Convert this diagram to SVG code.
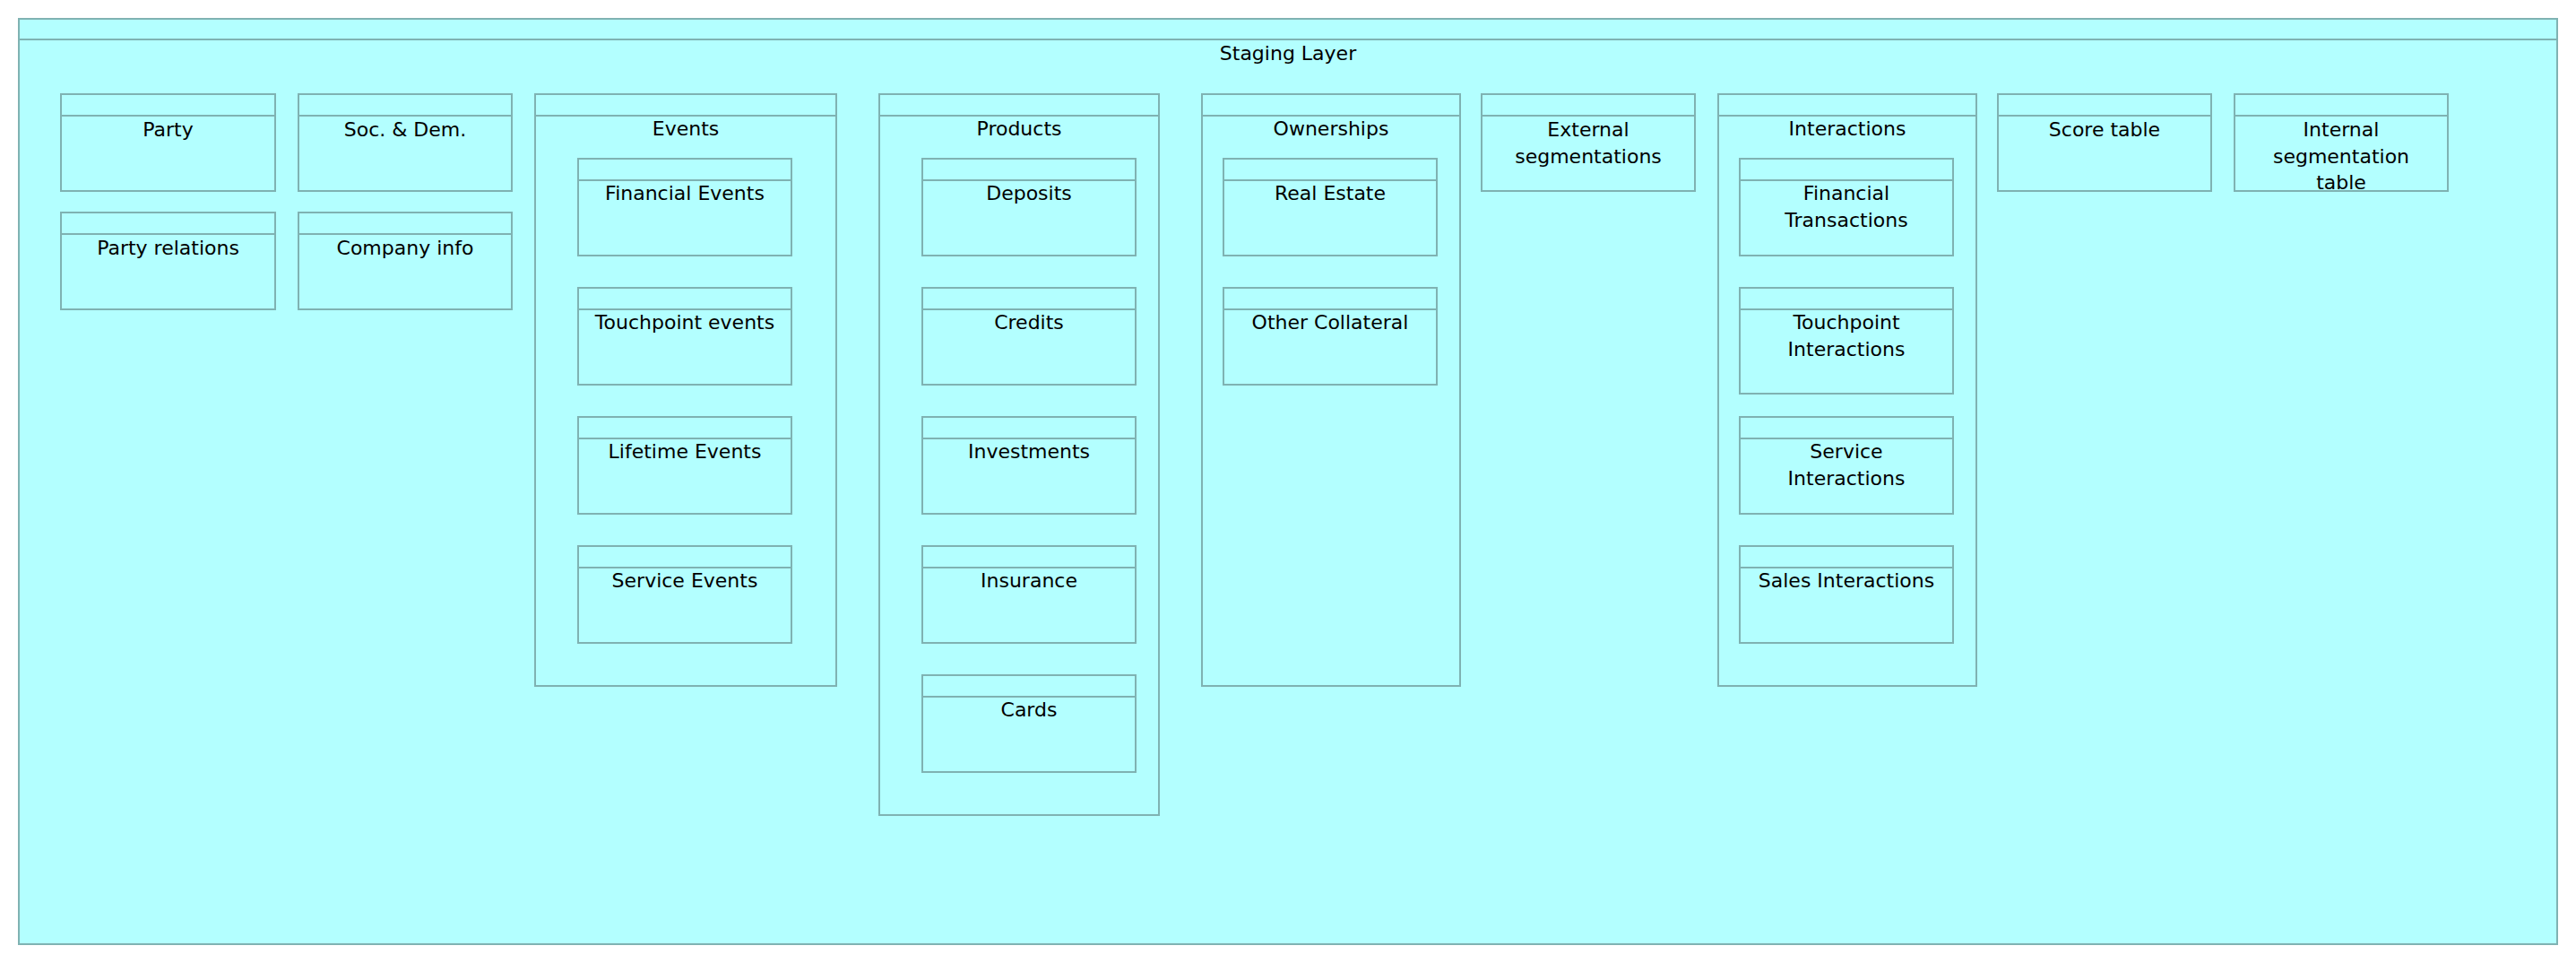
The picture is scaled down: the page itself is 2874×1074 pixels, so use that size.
<svg xmlns="http://www.w3.org/2000/svg" width="2874" height="1074" viewBox="0 0 2874 1074">
<style>
.box{fill:#b3ffff;stroke:#7fb2b2;stroke-width:2}
.hl{stroke:#7fb2b2;stroke-width:2;fill:none}
text{font-family:"DejaVu Sans","Liberation Sans",sans-serif;font-size:22px;fill:#000;text-anchor:middle}
</style>
<rect width="2874" height="1074" fill="#ffffff"/>
<g id="staging-layer">
<rect class="box" x="21" y="21" width="2832" height="1032"/>
<line class="hl" x1="21" y1="44" x2="2853" y2="44"/>
<text x="1437" y="67">Staging Layer</text>
</g>
<g id="party"><rect class="box" x="68" y="105" width="239" height="108"/><line class="hl" x1="68" y1="129" x2="307" y2="129"/><text x="187.5" y="152">Party</text></g>
<g id="soc-dem"><rect class="box" x="333" y="105" width="238" height="108"/><line class="hl" x1="333" y1="129" x2="571" y2="129"/><text x="452" y="152">Soc. &amp; Dem.</text></g>
<g id="party-relations"><rect class="box" x="68" y="237" width="239" height="108"/><line class="hl" x1="68" y1="261" x2="307" y2="261"/><text x="187.5" y="284">Party relations</text></g>
<g id="company-info"><rect class="box" x="333" y="237" width="238" height="108"/><line class="hl" x1="333" y1="261" x2="571" y2="261"/><text x="452" y="284">Company info</text></g>

<g id="events"><rect class="box" x="597" y="105" width="336" height="660"/><line class="hl" x1="597" y1="129" x2="933" y2="129"/><text x="765" y="151">Events</text></g>
<g id="financial-events"><rect class="box" x="645" y="177" width="238" height="108"/><line class="hl" x1="645" y1="201" x2="883" y2="201"/><text x="764" y="223">Financial Events</text></g>
<g id="touchpoint-events"><rect class="box" x="645" y="321" width="238" height="108"/><line class="hl" x1="645" y1="345" x2="883" y2="345"/><text x="764" y="367">Touchpoint events</text></g>
<g id="lifetime-events"><rect class="box" x="645" y="465" width="238" height="108"/><line class="hl" x1="645" y1="489" x2="883" y2="489"/><text x="764" y="511">Lifetime Events</text></g>
<g id="service-events"><rect class="box" x="645" y="609" width="238" height="108"/><line class="hl" x1="645" y1="633" x2="883" y2="633"/><text x="764" y="655">Service Events</text></g>

<g id="products"><rect class="box" x="981" y="105" width="312" height="804"/><line class="hl" x1="981" y1="129" x2="1293" y2="129"/><text x="1137" y="151">Products</text></g>
<g id="deposits"><rect class="box" x="1029" y="177" width="238" height="108"/><line class="hl" x1="1029" y1="201" x2="1267" y2="201"/><text x="1148" y="223">Deposits</text></g>
<g id="credits"><rect class="box" x="1029" y="321" width="238" height="108"/><line class="hl" x1="1029" y1="345" x2="1267" y2="345"/><text x="1148" y="367">Credits</text></g>
<g id="investments"><rect class="box" x="1029" y="465" width="238" height="108"/><line class="hl" x1="1029" y1="489" x2="1267" y2="489"/><text x="1148" y="511">Investments</text></g>
<g id="insurance"><rect class="box" x="1029" y="609" width="238" height="108"/><line class="hl" x1="1029" y1="633" x2="1267" y2="633"/><text x="1148" y="655">Insurance</text></g>
<g id="cards"><rect class="box" x="1029" y="753" width="238" height="108"/><line class="hl" x1="1029" y1="777" x2="1267" y2="777"/><text x="1148" y="799">Cards</text></g>

<g id="ownerships"><rect class="box" x="1341" y="105" width="288" height="660"/><line class="hl" x1="1341" y1="129" x2="1629" y2="129"/><text x="1485" y="151">Ownerships</text></g>
<g id="real-estate"><rect class="box" x="1365" y="177" width="238" height="108"/><line class="hl" x1="1365" y1="201" x2="1603" y2="201"/><text x="1484" y="223">Real Estate</text></g>
<g id="other-collateral"><rect class="box" x="1365" y="321" width="238" height="108"/><line class="hl" x1="1365" y1="345" x2="1603" y2="345"/><text x="1484" y="367">Other Collateral</text></g>

<g id="external-segmentations"><rect class="box" x="1653" y="105" width="238" height="108"/><line class="hl" x1="1653" y1="129" x2="1891" y2="129"/><text x="1772" y="152">External</text><text x="1772" y="182">segmentations</text></g>

<g id="interactions"><rect class="box" x="1917" y="105" width="288" height="660"/><line class="hl" x1="1917" y1="129" x2="2205" y2="129"/><text x="2061" y="151">Interactions</text></g>
<g id="financial-transactions"><rect class="box" x="1941" y="177" width="238" height="108"/><line class="hl" x1="1941" y1="201" x2="2179" y2="201"/><text x="2060" y="223">Financial</text><text x="2060" y="253">Transactions</text></g>
<g id="touchpoint-interactions"><rect class="box" x="1941" y="321" width="238" height="118"/><line class="hl" x1="1941" y1="345" x2="2179" y2="345"/><text x="2060" y="367">Touchpoint</text><text x="2060" y="397">Interactions</text></g>
<g id="service-interactions"><rect class="box" x="1941" y="465" width="238" height="108"/><line class="hl" x1="1941" y1="489" x2="2179" y2="489"/><text x="2060" y="511">Service</text><text x="2060" y="541">Interactions</text></g>
<g id="sales-interactions"><rect class="box" x="1941" y="609" width="238" height="108"/><line class="hl" x1="1941" y1="633" x2="2179" y2="633"/><text x="2060" y="655">Sales Interactions</text></g>

<g id="score-table"><rect class="box" x="2229" y="105" width="238" height="108"/><line class="hl" x1="2229" y1="129" x2="2467" y2="129"/><text x="2348" y="152">Score table</text></g>
<g id="internal-segmentation-table"><rect class="box" x="2493" y="105" width="238" height="108"/><line class="hl" x1="2493" y1="129" x2="2731" y2="129"/><text x="2612" y="152">Internal</text><text x="2612" y="182">segmentation</text><text x="2612" y="211">table</text></g>

<g id="connectors"></g>
</svg>
